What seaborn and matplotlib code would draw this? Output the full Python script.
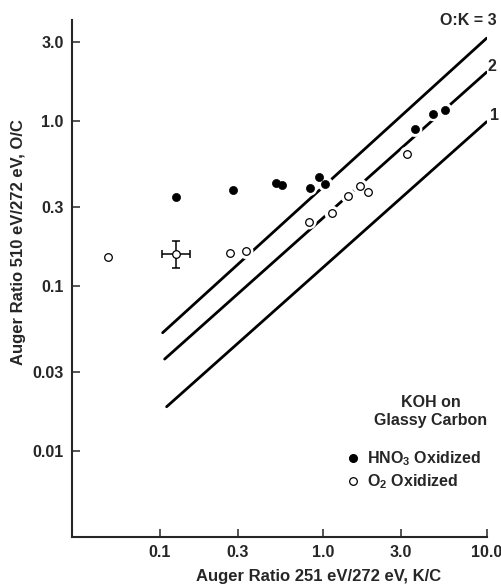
import matplotlib
matplotlib.use("Agg")
import matplotlib.pyplot as plt
from matplotlib.lines import Line2D
from matplotlib.ticker import NullLocator
import numpy as np
import pandas as pd
import seaborn as sns

# K/C and O/C Auger ratios for KOH deposited on glassy carbon
hno3_kc = [0.125, 0.28, 0.513, 0.562, 0.826, 0.938, 1.03, 3.63, 4.70, 5.53]
hno3_oc = [0.345, 0.382, 0.419, 0.411, 0.391, 0.456, 0.415, 0.891, 1.11, 1.17]
o2_kc = [0.0483, 0.125, 0.268, 0.336, 0.818, 1.13, 1.42, 1.67, 1.88, 3.27]
o2_oc = [0.149, 0.156, 0.158, 0.162, 0.245, 0.276, 0.351, 0.405, 0.370, 0.631]

# representative uncertainty on one O2-oxidized point
err_point = (0.125, 0.156)
err_kc_range = [0.103, 0.154]
err_oc_range = [0.128, 0.188]

# reference lines for constant O:K stoichiometry
ratio_labels = ["O:K = 3", "2", "1"]
line_kc = [[0.104, 10.0], [0.107, 10.0], [0.110, 10.0]]
line_oc = [[0.052, 3.18], [0.036, 1.98], [0.0185, 0.99]]

x_ticks = [0.1, 0.3, 1.0, 3.0, 10.0]
x_ticklabels = ["0.1", "0.3", "1.0", "3.0", "10.0"]
y_ticks = [0.01, 0.03, 0.1, 0.3, 1.0, 3.0]
y_ticklabels = ["0.01", "0.03", "0.1", "0.3", "1.0", "3.0"]

sns.set_style("ticks")
plt.rcParams["font.family"] = ["Liberation Sans", "DejaVu Sans"]
plt.rcParams["font.weight"] = "bold"
plt.rcParams["mathtext.default"] = "regular"

fig = plt.figure(figsize=(5.01, 5.88), dpi=100)
ax = fig.add_axes([72 / 501, 51 / 588, 415 / 501, 517 / 588])
ax.set_xscale("log")
ax.set_yscale("log")

lines_df = pd.DataFrame({
    "kc": np.concatenate(line_kc),
    "oc": np.concatenate(line_oc),
    "ratio": np.repeat(ratio_labels, 2),
})
sns.lineplot(data=lines_df, x="kc", y="oc", units="ratio", estimator=None,
             sort=False, color="black", linewidth=2.0, ax=ax, zorder=1)

hno3_df = pd.DataFrame({"kc": hno3_kc, "oc": hno3_oc})
o2_df = pd.DataFrame({"kc": o2_kc, "oc": o2_oc})
all_df = pd.concat([hno3_df, o2_df])

# white halos break the reference lines around each point
sns.scatterplot(data=all_df, x="kc", y="oc", s=120, color="white",
                edgecolor="none", linewidth=0, ax=ax, zorder=2, legend=False)

ax.errorbar([err_point[0]], [err_point[1]],
            xerr=[[err_point[0] - err_kc_range[0]], [err_kc_range[1] - err_point[0]]],
            yerr=[[err_point[1] - err_oc_range[0]], [err_oc_range[1] - err_point[1]]],
            fmt="none", ecolor="black", elinewidth=1.1, capsize=3, capthick=1.1,
            zorder=3)

sns.scatterplot(data=hno3_df, x="kc", y="oc", s=34, color="black",
                edgecolor="black", linewidth=0.5, ax=ax, zorder=4, legend=False)
sns.scatterplot(data=o2_df, x="kc", y="oc", s=30, color="white",
                edgecolor="black", linewidth=0.9, ax=ax, zorder=4, legend=False)

# labels at the upper ends of the stoichiometry lines
label_offsets = [(10, 13, "right"), (1, 1, "left"), (3, 2, "left")]
for lab, xs, ys, (dx, dy, ha) in zip(ratio_labels, line_kc, line_oc, label_offsets):
    ax.annotate(lab, xy=(xs[-1], ys[-1]), xytext=(dx, dy),
                textcoords="offset pixels", ha=ha, va="baseline",
                fontsize=11.5, fontweight="bold", annotation_clip=False)

ax.set_xlim(0.029, 10.05)
ax.set_ylim(0.0030, 4.1)
ax.set_xticks(x_ticks)
ax.set_xticklabels(x_ticklabels)
ax.set_yticks(y_ticks)
ax.set_yticklabels(y_ticklabels)
ax.xaxis.set_minor_locator(NullLocator())
ax.yaxis.set_minor_locator(NullLocator())
ax.tick_params(direction="in", length=5.5, width=1.1, labelsize=11.5, pad=6)
for lbl in ax.get_xticklabels() + ax.get_yticklabels():
    lbl.set_fontweight("bold")

for side in ("top", "right"):
    ax.spines[side].set_visible(False)
for side in ("left", "bottom"):
    ax.spines[side].set_linewidth(1.5)

ax.set_xlabel("Auger Ratio 251 eV/272 eV, K/C", fontsize=12, fontweight="bold")
ax.set_ylabel("Auger Ratio 510 eV/272 eV, O/C", fontsize=12, fontweight="bold")
ax.xaxis.set_label_coords(0.593, -0.062)
ax.yaxis.set_label_coords(-0.111, 0.571)

ax.text(0.865, 0.243, "KOH on\nGlassy Carbon", transform=ax.transAxes,
        ha="center", va="center", fontsize=11.5, fontweight="bold",
        linespacing=1.3)

handles = [
    Line2D([], [], marker="o", ls="none", color="black", markersize=5.5),
    Line2D([], [], marker="o", ls="none", markerfacecolor="white",
           markeredgecolor="black", markeredgewidth=0.9, markersize=5.5),
]
ax.legend(handles, ["HNO$_3$ Oxidized", "O$_2$ Oxidized"], loc="upper left",
          bbox_to_anchor=(0.658, 0.17), frameon=False, borderpad=0,
          borderaxespad=0, handlelength=1.0, handletextpad=0.4,
          labelspacing=0.3, prop={"weight": "bold", "size": 11.5})

fig.savefig("out.png", dpi=100)
